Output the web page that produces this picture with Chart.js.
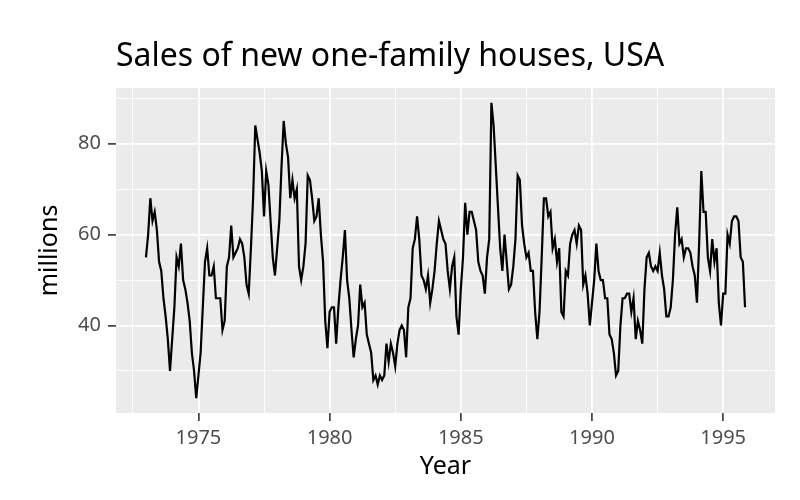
<!DOCTYPE html>
<html>
<head>
<meta charset="utf-8">
<script src="https://cdn.jsdelivr.net/npm/chart.js@4.4.1/dist/chart.umd.min.js"></script>
<style>
  html, body { margin: 0; padding: 0; background: #fff; }
  #wrap { width: 800px; height: 500px; }
</style>
</head>
<body>
<div id="wrap"><canvas id="chart"></canvas></div>
<script>
// Monthly sales of new one-family houses (millions), Jan 1973 - Nov 1995
const startYear = 1973;
const sales = [
  55, 60, 68, 63, 65, 61, 54, 52, 46, 42, 37, 30,
  37, 44, 55, 53, 58, 50, 48, 45, 41, 34, 30, 24,
  29, 34, 44, 54, 57, 51, 51, 53, 46, 46, 46, 39,
  41, 53, 55, 62, 55, 56, 57, 59, 58, 55, 49, 47,
  57, 68, 84, 81, 78, 74, 64, 74, 71, 63, 55, 51,
  57, 63, 75, 85, 80, 77, 68, 72, 68, 70, 53, 50,
  53, 58, 73, 72, 68, 63, 64, 68, 60, 54, 41, 35,
  43, 44, 44, 36, 44, 50, 55, 61, 50, 46, 39, 33,
  37, 40, 49, 44, 45, 38, 36, 34, 28, 29, 27, 29,
  28, 29, 36, 32, 36, 34, 31, 36, 39, 40, 39, 33,
  44, 46, 57, 59, 64, 59, 51, 50, 48, 51, 45, 48,
  52, 58, 63, 61, 59, 58, 52, 48, 53, 55, 42, 38,
  48, 55, 67, 60, 65, 65, 63, 61, 54, 52, 51, 47,
  55, 59, 89, 84, 75, 66, 57, 52, 60, 54, 48, 49,
  53, 59, 73, 72, 62, 58, 55, 56, 52, 52, 43, 37,
  43, 55, 68, 68, 64, 65, 57, 59, 54, 57, 43, 42,
  52, 51, 58, 60, 61, 58, 62, 61, 49, 51, 47, 40,
  45, 50, 58, 52, 50, 50, 46, 46, 38, 37, 34, 29,
  30, 40, 46, 46, 47, 47, 43, 46, 37, 41, 39, 36,
  48, 55, 56, 53, 52, 53, 52, 56, 51, 48, 42, 42,
  44, 50, 60, 66, 58, 59, 55, 57, 57, 56, 53, 51,
  45, 58, 74, 65, 65, 55, 52, 59, 54, 57, 45, 40,
  47, 47, 60, 58, 63, 64, 64, 63, 55, 54, 44
];
const xMajor = [1975, 1980, 1985, 1990, 1995];
const xMinor = [1972.5, 1977.5, 1982.5, 1987.5, 1992.5];
const yMajor = [40, 60, 80];
const yMinor = [30, 50, 70, 90];

const points = sales.map((v, i) => ({ x: startYear + i / 12, y: v }));

// ggplot-style expansion of 5% on both axes
const xs = points.map(p => p.x);
const xPad = (Math.max(...xs) - Math.min(...xs)) * 0.05;
const yPad = (Math.max(...sales) - Math.min(...sales)) * 0.05;

const FONT = "'Noto Sans', 'Open Sans', sans-serif";

const majorSet = v => xMajor.includes(v) || yMajor.includes(v);

function gridOpts() {
  return {
    color: '#ffffff',
    lineWidth: ctx => (ctx.tick && majorSet(ctx.tick.value)) ? 1.8 : 0.9,
    drawTicks: true,
    tickLength: 8,
    tickColor: ctx => (ctx.tick && majorSet(ctx.tick.value)) ? '#333333' : 'rgba(0,0,0,0)',
    tickWidth: 1.6
  };
}

// grey panel background + title drawn at the panel's left edge
const panelPlugin = {
  id: 'panel',
  beforeDraw(chart) {
    const { ctx, chartArea: a } = chart;
    ctx.save();
    ctx.fillStyle = '#ebebeb';
    ctx.fillRect(a.left, a.top, a.right - a.left, a.bottom - a.top);
    ctx.restore();
  },
  afterDraw(chart) {
    const { ctx, chartArea: a } = chart;
    ctx.save();
    ctx.fillStyle = '#000000';
    ctx.font = '32px ' + FONT;
    ctx.textBaseline = 'alphabetic';
    ctx.textAlign = 'left';
    ctx.fillText('Sales of new one-family houses, USA', a.left, 66);
    ctx.restore();
  }
};

new Chart(document.getElementById('chart'), {
  type: 'line',
  data: {
    datasets: [{
      data: points,
      borderColor: '#000000',
      borderWidth: 2.2,
      pointRadius: 0,
      tension: 0,
      fill: false
    }]
  },
  options: {
    responsive: true,
    maintainAspectRatio: false,
    animation: false,
    layout: { padding: { top: 88, right: 25, left: 35, bottom: 0 } },
    plugins: {
      legend: { display: false },
      tooltip: { enabled: false }
    },
    scales: {
      x: {
        type: 'linear',
        min: Math.min(...xs) - xPad,
        max: Math.max(...xs) + xPad,
        border: { display: false },
        grid: gridOpts(),
        afterBuildTicks: s => { s.ticks = xMinor.concat(xMajor).sort((a, b) => a - b).map(v => ({ value: v })); },
        afterFit: s => { s.height = 87; },
        ticks: {
          autoSkip: false,
          maxRotation: 0,
          color: '#4d4d4d',
          font: { family: FONT, size: 20 },
          padding: 5,
          callback: v => xMajor.includes(v) ? String(v) : ''
        },
        title: {
          display: true,
          text: 'Year',
          color: '#000000',
          font: { family: FONT, size: 25 },
          padding: { top: 2, bottom: 18 }
        }
      },
      y: {
        min: Math.min(...sales) - yPad,
        max: Math.max(...sales) + yPad,
        border: { display: false },
        grid: gridOpts(),
        afterBuildTicks: s => { s.ticks = yMinor.concat(yMajor).sort((a, b) => a - b).map(v => ({ value: v })); },
        afterFit: s => { s.width = 81; },
        ticks: {
          autoSkip: false,
          color: '#4d4d4d',
          font: { family: FONT, size: 20 },
          padding: 7,
          callback: v => yMajor.includes(v) ? String(v) : ''
        },
        title: {
          display: true,
          text: 'millions',
          color: '#000000',
          font: { family: FONT, size: 25 },
          padding: { top: 0, bottom: 8 }
        }
      }
    }
  },
  plugins: [panelPlugin]
});
</script>
</body>
</html>
